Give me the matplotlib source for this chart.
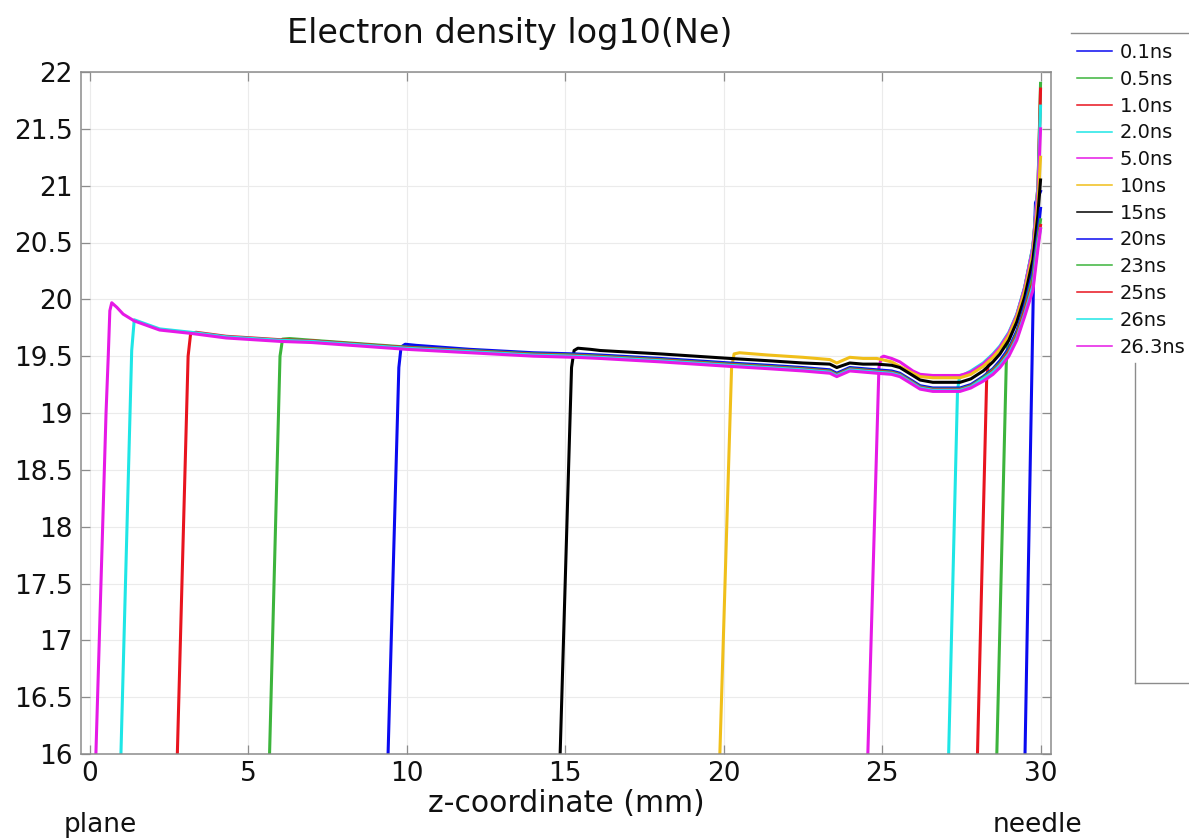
import matplotlib
matplotlib.use("Agg")
import matplotlib.pyplot as plt
from matplotlib.lines import Line2D
from matplotlib.ticker import FuncFormatter

# ---------------- data ----------------
labels = ["0.1ns", "0.5ns", "1.0ns", "2.0ns", "5.0ns", "10ns",
          "15ns", "20ns", "23ns", "25ns", "26ns", "26.3ns"]
colors = ["#0a0af0", "#3cb43c", "#e8141e", "#1ee6e6", "#e619e6", "#f0bf1a",
          "#000000", "#0a0af0", "#3cb43c", "#e8141e", "#1ee6e6", "#e619e6"]

z_01 = [29.51, 29.80, 29.84, 29.92, 30.0]
ne_01 = [16.0, 20.5, 20.85, 20.9, 20.95]

z_05 = [28.62, 28.92, 28.98, 29.1, 29.25, 29.5, 29.76, 29.92, 30.0]
ne_05 = [16.0, 19.45, 19.68, 19.74, 19.86, 20.1, 20.46, 21.0, 21.9]

z_10 = [28.01, 28.3, 28.36, 28.5, 28.72, 29.0, 29.25, 29.5, 29.76, 29.92, 30.0]
ne_10 = [16.0, 19.3, 19.46, 19.51, 19.58, 19.70, 19.86, 20.1, 20.46, 21.0, 21.85]

z_20 = [27.1, 27.38, 27.45, 27.6, 27.8, 28.19, 28.5, 28.72, 29.0, 29.25, 29.5,
        29.76, 29.92, 30.0]
ne_20 = [16.0, 19.2, 19.33, 19.34, 19.37, 19.44, 19.52, 19.59, 19.71, 19.87,
         20.11, 20.47, 21.0, 21.7]

z_50 = [24.55, 24.9, 24.98, 25.05, 25.3, 25.56, 25.97, 26.2, 26.6, 27.0, 27.46,
        27.8, 28.19, 28.5, 28.72, 29.0, 29.25, 29.5, 29.76, 29.92, 30.0]
ne_50 = [16.0, 19.4, 19.49, 19.50, 19.48, 19.45, 19.37, 19.34, 19.33, 19.33,
         19.33, 19.36, 19.43, 19.51, 19.58, 19.70, 19.86, 20.1, 20.45, 20.95, 21.5]

z_100 = [19.88, 20.25, 20.33, 20.5, 21.4, 22.5, 23.35, 23.57, 23.98, 24.4, 24.83,
         25.3, 25.56, 25.97, 26.2, 26.6, 27.0, 27.46, 27.8, 28.19, 28.5, 28.72,
         29.0, 29.25, 29.5, 29.76, 29.92, 30.0]
ne_100 = [16.0, 19.4, 19.52, 19.53, 19.51, 19.49, 19.47, 19.44, 19.49, 19.48,
          19.48, 19.45, 19.41, 19.35, 19.32, 19.31, 19.31, 19.31, 19.34, 19.41,
          19.49, 19.56, 19.68, 19.84, 20.07, 20.4, 20.85, 21.25]

z_150 = [14.84, 15.2, 15.28, 15.4, 15.8, 16.1, 18.0, 20.2, 21.4, 22.5, 23.35,
         23.57, 23.98, 24.4, 24.83, 25.3, 25.56, 25.97, 26.2, 26.6, 27.0, 27.46,
         27.8, 28.19, 28.5, 28.72, 29.0, 29.25, 29.5, 29.76, 29.92, 30.0]
ne_150 = [16.0, 19.4, 19.55, 19.57, 19.56, 19.55, 19.52, 19.48, 19.46, 19.44,
          19.43, 19.40, 19.44, 19.43, 19.43, 19.42, 19.40, 19.33, 19.29, 19.27,
          19.27, 19.27, 19.30, 19.37, 19.45, 19.52, 19.64, 19.8, 20.02, 20.35,
          20.75, 21.05]

z_200 = [9.41, 9.75, 9.82, 9.95, 10.3, 12.0, 14.0, 15.3, 16.1, 18.0, 20.2, 21.4,
         22.5, 23.35, 23.57, 23.98, 24.4, 24.83, 25.3, 25.56, 25.97, 26.2, 26.6,
         27.0, 27.46, 27.8, 28.19, 28.5, 28.72, 29.0, 29.25, 29.5, 29.76, 29.92,
         30.0]
ne_200 = [16.0, 19.4, 19.58, 19.605, 19.595, 19.56, 19.53, 19.52, 19.51, 19.48,
          19.44, 19.42, 19.40, 19.38, 19.35, 19.40, 19.39, 19.38, 19.37, 19.35,
          19.28, 19.24, 19.22, 19.22, 19.22, 19.25, 19.32, 19.39, 19.46, 19.57,
          19.72, 19.95, 20.25, 20.6, 20.8]

z_230 = [5.67, 6.0, 6.08, 6.3, 7.0, 8.0, 10.0, 12.0, 14.0, 15.3, 16.1, 18.0,
         20.2, 21.4, 22.5, 23.35, 23.57, 23.98, 24.4, 24.83, 25.3, 25.56, 25.97,
         26.2, 26.6, 27.0, 27.46, 27.8, 28.19, 28.5, 28.72, 29.0, 29.25, 29.5,
         29.76, 29.92, 30.0]
ne_230 = [16.0, 19.5, 19.65, 19.655, 19.64, 19.62, 19.58, 19.55, 19.52, 19.51,
          19.50, 19.47, 19.43, 19.41, 19.39, 19.37, 19.34, 19.39, 19.38, 19.37,
          19.36, 19.34, 19.27, 19.23, 19.21, 19.21, 19.21, 19.24, 19.31, 19.38,
          19.44, 19.55, 19.70, 19.92, 20.2, 20.55, 20.7]

z_250 = [2.76, 3.10, 3.18, 3.35, 4.3, 6.0, 7.0, 8.0, 10.0, 12.0, 14.0, 15.3,
         16.1, 18.0, 20.2, 21.4, 22.5, 23.35, 23.57, 23.98, 24.4, 24.83, 25.3,
         25.56, 25.97, 26.2, 26.6, 27.0, 27.46, 27.8, 28.19, 28.5, 28.72, 29.0,
         29.25, 29.5, 29.76, 29.92, 30.0]
ne_250 = [16.0, 19.5, 19.70, 19.71, 19.675, 19.645, 19.635, 19.615, 19.575,
          19.545, 19.515, 19.505, 19.495, 19.465, 19.425, 19.405, 19.385, 19.365,
          19.335, 19.385, 19.375, 19.365, 19.355, 19.335, 19.265, 19.225, 19.205,
          19.205, 19.205, 19.235, 19.30, 19.37, 19.43, 19.54, 19.68, 19.9, 20.15,
          20.5, 20.65]

z_260 = [0.98, 1.32, 1.40, 2.2, 3.2, 4.3, 6.0, 7.0, 8.0, 10.0, 12.0, 14.0, 15.3,
         16.1, 18.0, 20.2, 21.4, 22.5, 23.35, 23.57, 23.98, 24.4, 24.83, 25.3,
         25.56, 25.97, 26.2, 26.6, 27.0, 27.46, 27.8, 28.19, 28.5, 28.72, 29.0,
         29.25, 29.5, 29.76, 29.92, 30.0]
ne_260 = [16.0, 19.55, 19.82, 19.74, 19.71, 19.67, 19.64, 19.63, 19.61, 19.57,
          19.54, 19.51, 19.50, 19.49, 19.46, 19.42, 19.40, 19.38, 19.36, 19.33,
          19.38, 19.37, 19.36, 19.35, 19.33, 19.26, 19.22, 19.20, 19.20, 19.20,
          19.23, 19.30, 19.36, 19.42, 19.52, 19.66, 19.87, 20.12, 20.5, 20.62]

z_263 = [0.19, 0.51, 0.58, 0.63, 0.69, 0.85, 1.05, 1.4, 2.2, 3.2, 4.3, 6.0, 7.0,
         8.0, 10.0, 12.0, 14.0, 15.3, 16.1, 18.0, 20.2, 21.4, 22.5, 23.35, 23.57,
         23.98, 24.4, 24.83, 25.3, 25.56, 25.97, 26.2, 26.6, 27.0, 27.46, 27.8,
         28.19, 28.5, 28.72, 29.0, 29.25, 29.5, 29.76, 29.92, 30.0]
ne_263 = [16.0, 19.0, 19.5, 19.9, 19.97, 19.93, 19.87, 19.81, 19.73, 19.70,
          19.66, 19.63, 19.62, 19.60, 19.56, 19.53, 19.50, 19.49, 19.48, 19.45,
          19.41, 19.39, 19.37, 19.35, 19.32, 19.37, 19.36, 19.35, 19.34, 19.32,
          19.25, 19.21, 19.19, 19.19, 19.19, 19.22, 19.28, 19.34, 19.40, 19.50,
          19.64, 19.85, 20.08, 20.45, 20.62]

series_z = [z_01, z_05, z_10, z_20, z_50, z_100, z_150, z_200, z_230, z_250, z_260, z_263]
series_ne = [ne_01, ne_05, ne_10, ne_20, ne_50, ne_100, ne_150, ne_200, ne_230, ne_250, ne_260, ne_263]

x_ticks = [0, 5, 10, 15, 20, 25, 30]
y_ticks = [16, 16.5, 17, 17.5, 18, 18.5, 19, 19.5, 20, 20.5, 21, 21.5, 22]

# ---------------- figure ----------------
W, H = 1189, 840
fig = plt.figure(figsize=(W / 100, H / 100), dpi=100)
ax = fig.add_axes([81 / W, 1 - 754 / H, (1051 - 81) / W, (754 - 72) / H])

for z, ne, c, lab in zip(series_z, series_ne, colors, labels):
    ax.plot(z, ne, color=c, lw=2.2, label=lab, solid_joinstyle="round")

ax.set_xlim(-0.28, 30.33)
ax.set_ylim(16, 22)
ax.set_xticks(x_ticks)
ax.set_yticks(y_ticks)
ax.yaxis.set_major_formatter(FuncFormatter(lambda v, p: f"{v:g}"))
ax.grid(True, color="#ebebeb", lw=0.8)
ax.set_axisbelow(True)
for s in ax.spines.values():
    s.set_color("#8c8c8c")
    s.set_linewidth(1.1)
ax.tick_params(direction="in", length=6.5, width=0.9, color="#8c8c8c",
               top=True, right=True, labelsize=19, labelcolor="#111111")
ax.tick_params(axis="y", pad=6)
ax.tick_params(axis="x", pad=5)

ax.set_xlabel("z-coordinate (mm)", fontsize=21.5, labelpad=1.5, color="#111111")

fig.text(510 / W, 1 - 34 / H, "Electron density log10(Ne)", fontsize=24,
         ha="center", va="center", color="#111111")
fig.text(64 / W, 1 - 825 / H, "plane", fontsize=19, ha="left", va="center",
         color="#111111")
fig.text(993 / W, 1 - 825 / H, "needle", fontsize=19, ha="left", va="center",
         color="#111111")

# legend
leg_handles = [Line2D([0], [0], color=c, lw=1.1) for c in colors]
leg = ax.legend(leg_handles, labels, loc="upper left",
                bbox_to_anchor=(1077 / W, 1 - 43 / H),
                bbox_transform=fig.transFigure, frameon=False,
                borderaxespad=0, borderpad=0, fontsize=14,
                handlelength=1.8, handletextpad=0.4, labelspacing=0.40)
for t in leg.get_texts():
    t.set_color("#111111")

# partially visible legend frame lines
frame_kw = dict(color="#8c8c8c", lw=1.0, transform=fig.transFigure)
fig.add_artist(Line2D([1071 / W, 1], [1 - 33 / H, 1 - 33 / H], **frame_kw))
fig.add_artist(Line2D([1135 / W, 1135 / W], [1 - 363 / H, 1 - 683 / H], **frame_kw))
fig.add_artist(Line2D([1135 / W, 1], [1 - 683 / H, 1 - 683 / H], **frame_kw))

fig.savefig("out.png", dpi=100)
